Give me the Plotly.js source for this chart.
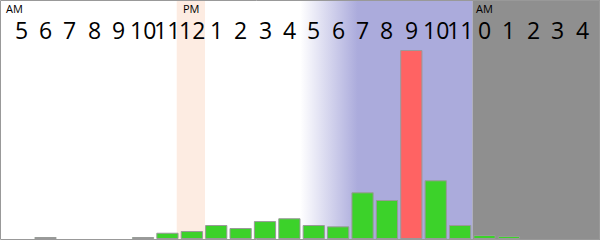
<!DOCTYPE html>
<html>
<head>
<meta charset="utf-8">
<script src="https://cdn.plot.ly/plotly-3.0.1.min.js"></script>
<style>
  html, body { margin: 0; padding: 0; background: #fff; }
  #chart { width: 600px; height: 240px; }
</style>
</head>
<body>
<div id="chart"></div>
<script>
// Hour slots from 5 AM through 4 AM the next day
const hourLabels = ['5','6','7','8','9','10','11','12','1','2','3','4','5','6','7','8','9','10','11','0','1','2','3','4'];
// Activity per hour (relative units)
const activity = [0, 0.5, 0, 0, 0, 0.5, 2.8, 3.7, 6.9, 5.3, 9.0, 10.5, 6.9, 6.2, 24.3, 20.2, 100, 30.7, 6.9, 1.6, 1.1, 0, 0, 0];
// Meridiem markers and the slot they sit over
const periodSlots = [0, 7, 19];
const periodTexts = ['AM', 'PM', 'AM'];
// Slot of the current hour, drawn in red
const currentSlot = 16;

const slots = hourLabels.map((_, i) => i);
const GREEN = '#3cd22a', RED = '#ff6363', EDGE = '#999999';
const BLUE = 'rgb(171,171,220)';
const X_RANGE = [-0.865, 23.735];
const Y_RANGE = [-0.80, 126.86];

// Evening gradient band behind the bars
const eveningStart = 11.45, eveningSolid = 13.8, nightStart = 18.5;
const evening = {
  type: 'scatter', mode: 'none', xaxis: 'x', yaxis: 'y',
  x: [eveningStart, nightStart, nightStart, eveningStart, eveningStart],
  y: [-5, -5, 140, 140, -5],
  fill: 'toself',
  fillgradient: {
    type: 'horizontal', start: eveningStart, stop: nightStart,
    colorscale: [[0, 'rgb(255,255,255)'], [(eveningSolid - eveningStart) / (nightStart - eveningStart), BLUE], [1, BLUE]]
  },
  hoverinfo: 'skip', showlegend: false
};

// Empty hours get no bar at all
const bars = {
  type: 'bar', xaxis: 'x2', yaxis: 'y2',
  x: slots, y: activity.map(v => v > 0 ? v : null), width: 0.87,
  marker: {
    color: slots.map(i => i === currentSlot ? RED : GREEN),
    line: { color: EDGE, width: 1 }
  },
  hoverinfo: 'skip', showlegend: false
};

const hourNotes = hourLabels.map((t, i) => ({
  x: i, xref: 'x', y: 1 - 30 / 240, yref: 'paper',
  text: t, showarrow: false, xanchor: 'center', yanchor: 'middle',
  font: { family: 'Open Sans, sans-serif', size: 23, color: '#000' }
}));
const periodNotes = periodSlots.map((s, k) => ({
  x: s, xref: 'x', y: 1 - 8.5 / 240, yref: 'paper',
  text: periodTexts[k], showarrow: false, xanchor: 'center', yanchor: 'middle',
  xshift: k === 0 ? -7 : 0,
  font: { family: 'Open Sans, sans-serif', size: 11, color: '#000' }
}));

const axisBase = { showgrid: false, zeroline: false, showticklabels: false, ticks: '', showline: false, fixedrange: true };

const layout = {
  width: 600, height: 240,
  margin: { l: 0, r: 0, t: 0, b: 0, pad: 0 },
  paper_bgcolor: '#fff', plot_bgcolor: 'rgba(0,0,0,0)',
  showlegend: false, hovermode: false,
  xaxis: Object.assign({ range: X_RANGE }, axisBase),
  yaxis: Object.assign({ range: Y_RANGE }, axisBase),
  xaxis2: Object.assign({ range: X_RANGE, overlaying: 'x' }, axisBase),
  yaxis2: Object.assign({ range: Y_RANGE, overlaying: 'y' }, axisBase),
  shapes: [
    // noon highlight
    { type: 'rect', layer: 'below', xref: 'x', yref: 'paper', x0: 6.38, x1: 7.54, y0: 0, y1: 1,
      fillcolor: '#fdece2', line: { width: 0 } },
    // night block
    { type: 'rect', layer: 'below', xref: 'x', yref: 'paper', x0: nightStart, x1: 24, y0: 0, y1: 1,
      fillcolor: '#8f8f8f', line: { width: 0 } },
    // frame
    { type: 'rect', layer: 'above', xref: 'paper', yref: 'paper',
      x0: 0.5 / 600, x1: 1 - 0.5 / 600, y0: 0.5 / 240, y1: 1 - 0.5 / 240,
      line: { color: EDGE, width: 1 }, fillcolor: 'rgba(0,0,0,0)' }
  ],
  annotations: hourNotes.concat(periodNotes)
};

Plotly.newPlot('chart', [evening, bars], layout, { staticPlot: true, displayModeBar: false });
</script>
</body>
</html>
